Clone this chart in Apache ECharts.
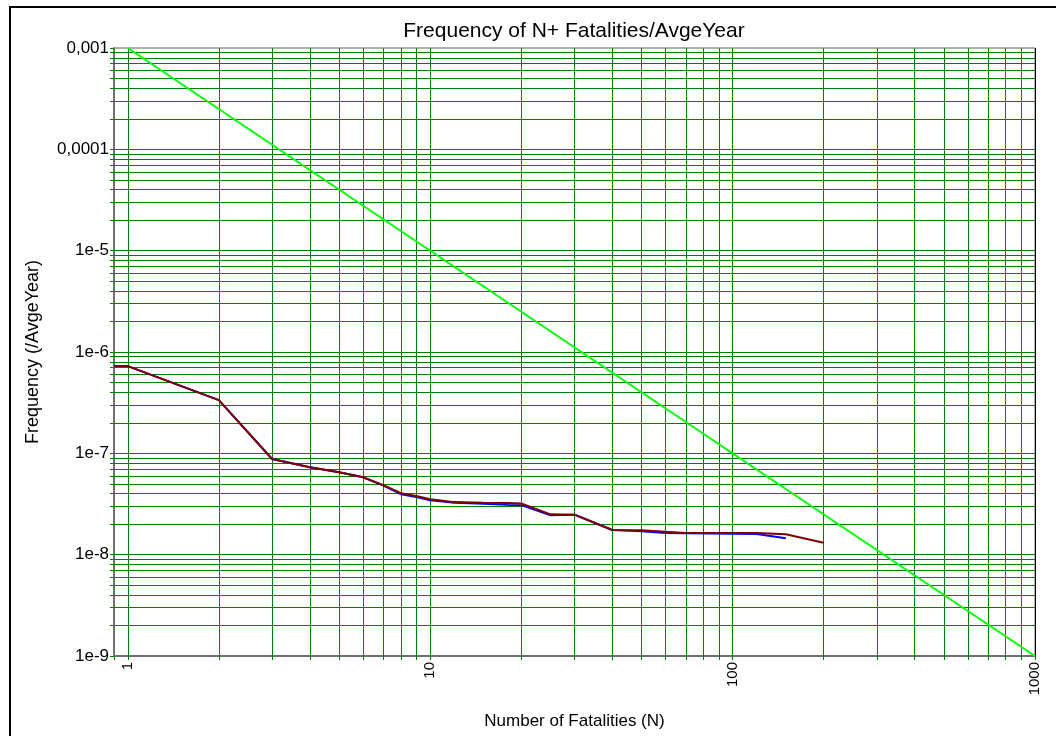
<!DOCTYPE html>
<html>
<head>
<meta charset="utf-8">
<title>Frequency of N+ Fatalities/AvgeYear</title>
<script src="https://cdn.jsdelivr.net/npm/echarts@6/dist/echarts.min.js"></script>
<style>
    html, body { margin: 0; padding: 0; background: #fff; }
    #main { width: 1056px; height: 736px; }
    #frame { position: absolute; left: 9px; top: 6px; width: 1100px; height: 800px;
             border-left: 2px solid #000; border-top: 2px solid #000; pointer-events: none; }
</style>
</head>
<body>
<div id="main"></div>
<div id="frame"></div>
<script>
// FN curve (dark red, drawn on top)
var fatalities = [0.9, 1, 2, 3, 4, 5, 6, 7, 8, 9, 10, 11, 12, 15, 18, 20, 25, 30, 40, 50, 60, 70, 120, 150, 200];
var freqRed = [7.26e-7, 7.26e-7, 3.35e-7, 8.8e-8, 7.3e-8, 6.5e-8, 5.8e-8, 4.85e-8, 4.05e-8, 3.8e-8, 3.52e-8, 3.41e-8, 3.3e-8, 3.25e-8, 3.23e-8, 3.2e-8, 2.5e-8, 2.48e-8, 1.75e-8, 1.74e-8, 1.68e-8, 1.64e-8, 1.64e-8, 1.59e-8, 1.31e-8];

// second FN curve (blue, mostly hidden under the red one)
var fatalitiesBlue = [0.9, 1, 2, 3, 4, 5, 6, 7, 8, 9, 10, 11, 12, 15, 18, 20, 25, 30, 40, 50, 60, 70, 120, 150];
var freqBlue = [7.26e-7, 7.26e-7, 3.35e-7, 8.8e-8, 7.3e-8, 6.5e-8, 5.8e-8, 4.8e-8, 3.95e-8, 3.7e-8, 3.45e-8, 3.35e-8, 3.25e-8, 3.18e-8, 3.1e-8, 3.08e-8, 2.45e-8, 2.48e-8, 1.75e-8, 1.7e-8, 1.64e-8, 1.63e-8, 1.6e-8, 1.45e-8];

// criterion line (green)
var criterionN = [1, 1000];
var criterionF = [1e-3, 1e-9];

// axis labels
var yTickValues = [1e-3, 1e-4, 1e-5, 1e-6, 1e-7, 1e-8, 1e-9];
var yTickLabels = ['0,001', '0,0001', '1e-5', '1e-6', '1e-7', '1e-8', '1e-9'];
var xTickValues = [1, 10, 100, 1000];
var xTickLabels = ['1', '10', '100', '1000'];

// log grid: 1..9 times each decade
var gridSteps = [1, 2, 3, 4, 5, 6, 7, 8, 9];
var xDecades = [1, 10, 100];
var yDecades = [1e-9, 1e-8, 1e-7, 1e-6, 1e-5, 1e-4];
var xMin = 0.9, xMax = 1000, yMin = 1e-9, yMax = 1e-3;

function pairs(xs, ys) {
    var out = [];
    for (var i = 0; i < xs.length; i++) {
        out.push([xs[i], ys[i]]);
    }
    return out;
}

function pickLabel(value, values, labels) {
    var lv = Math.log10(value);
    for (var i = 0; i < values.length; i++) {
        if (Math.abs(lv - Math.log10(values[i])) < 1e-6) return labels[i];
    }
    return '';
}

var gridLines = [];
for (var i = 0; i < xDecades.length; i++) {
    for (var j = 0; j < gridSteps.length; j++) {
        var gx = xDecades[i] * gridSteps[j];
        gridLines.push({ coords: [[gx, yMin], [gx, yMax]] });
    }
}
for (var i = 0; i < yDecades.length; i++) {
    for (var j = 0; j < gridSteps.length; j++) {
        var gy = yDecades[i] * gridSteps[j];
        if (gy <= yMin) continue;
        gridLines.push({ coords: [[xMin, gy], [xMax, gy]] });
    }
}

var font = '"Liberation Sans", Arial, sans-serif';
var gridGreen = '#008000';

var option = {
    animation: false,
    backgroundColor: '#fff',
    title: {
        text: 'Frequency of N+ Fatalities/AvgeYear',
        left: 569,
        top: 16,
        textAlign: 'center',
        textStyle: { fontFamily: font, fontSize: 21, fontWeight: 'normal', color: '#000' }
    },
    grid: {
        left: 114,
        right: 21,
        top: 48,
        bottom: 80,
        show: true,
        borderColor: '#606060',
        borderWidth: 1
    },
    xAxis: {
        type: 'log',
        logBase: 10,
        min: xMin,
        max: xMax,
        name: 'Number of Fatalities (N)',
        nameLocation: 'middle',
        nameGap: 57,
        nameTextStyle: { fontFamily: font, fontSize: 17, color: '#000' },
        axisLine: { show: true, lineStyle: { color: '#707070', width: 2 } },
        axisTick: { show: true, length: 4, lineStyle: { color: gridGreen } },
        minorTick: { show: true, splitNumber: 9, length: 4, lineStyle: { color: gridGreen } },
        splitLine: { show: false },
        minorSplitLine: { show: false },
        axisLabel: {
            rotate: 90,
            margin: 6,
            fontFamily: font,
            fontSize: 15,
            color: '#000',
            formatter: function (v) { return pickLabel(v, xTickValues, xTickLabels); }
        }
    },
    yAxis: {
        type: 'log',
        logBase: 10,
        min: yMin,
        max: yMax,
        name: 'Frequency (/AvgeYear)',
        nameLocation: 'middle',
        nameRotate: 90,
        nameGap: 72,
        nameTextStyle: { fontFamily: font, fontSize: 18, color: '#000' },
        axisLine: { show: true, lineStyle: { color: '#707070', width: 2 } },
        axisTick: { show: true, length: 4, lineStyle: { color: gridGreen } },
        minorTick: { show: true, splitNumber: 9, length: 4, lineStyle: { color: gridGreen } },
        splitLine: { show: false },
        minorSplitLine: { show: false },
        axisLabel: {
            margin: 5,
            fontFamily: font,
            fontSize: 17,
            color: '#000',
            formatter: function (v) { return pickLabel(v, yTickValues, yTickLabels); }
        }
    },
    series: [
        {
            name: 'grid',
            type: 'lines',
            coordinateSystem: 'cartesian2d',
            silent: true,
            z: 1,
            lineStyle: { color: gridGreen, width: 1, opacity: 1, curveness: 0 },
            data: gridLines
        },
        {
            name: 'border',
            type: 'lines',
            coordinateSystem: 'cartesian2d',
            silent: true,
            z: 2,
            lineStyle: { color: '#000', width: 1, opacity: 1 },
            data: [{ coords: [[xMax, yMin], [xMax, yMax]] }]
        },
        {
            name: 'Criterion',
            type: 'line',
            data: pairs(criterionN, criterionF),
            symbol: 'none',
            lineStyle: { color: '#00ff00', width: 2 },
            z: 3
        },
        {
            name: 'FN 2',
            type: 'line',
            data: pairs(fatalitiesBlue, freqBlue),
            symbol: 'none',
            lineStyle: { color: '#0000ff', width: 2 },
            z: 4
        },
        {
            name: 'FN 1',
            type: 'line',
            data: pairs(fatalities, freqRed),
            symbol: 'none',
            lineStyle: { color: '#800000', width: 2 },
            z: 5
        }
    ]
};

var chart = echarts.init(document.getElementById('main'));
chart.setOption(option);
</script>
</body>
</html>
